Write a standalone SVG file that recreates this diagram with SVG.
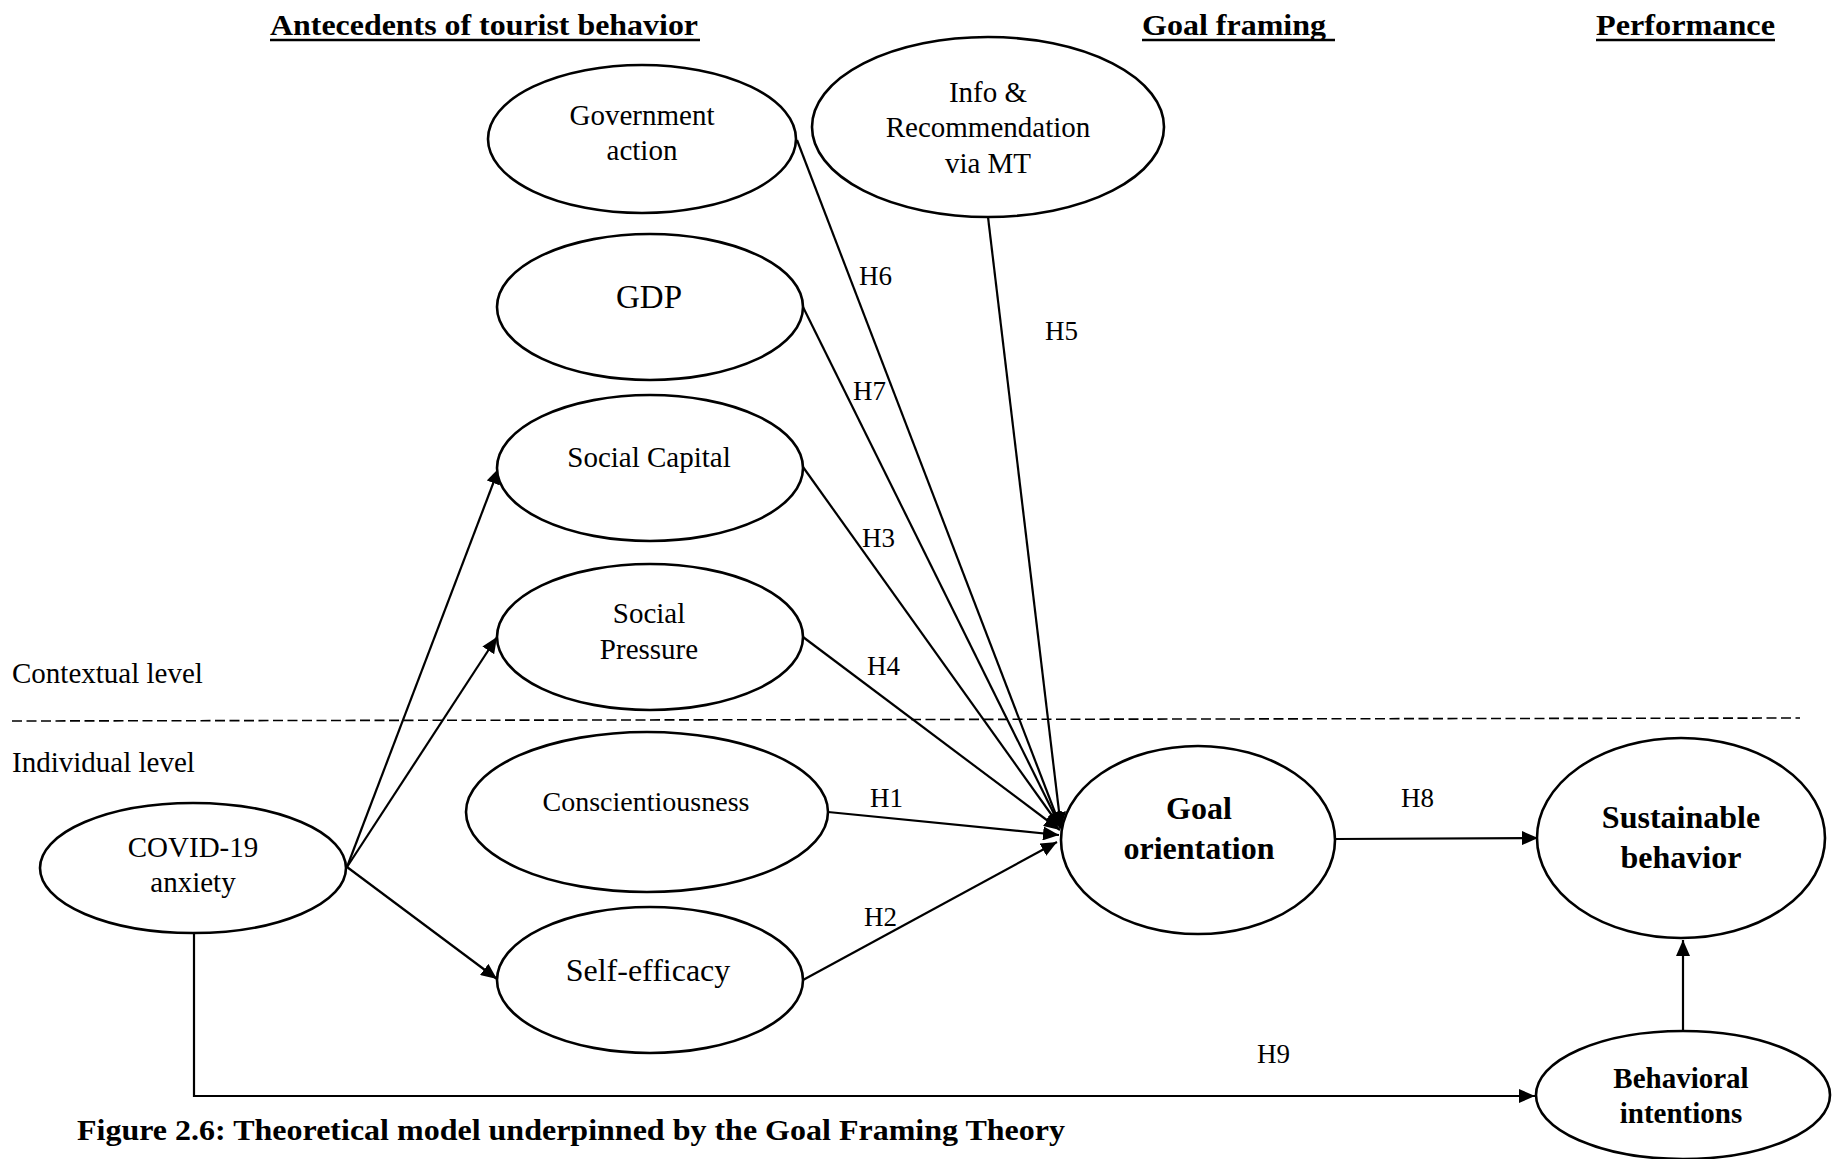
<svg xmlns="http://www.w3.org/2000/svg" width="1837" height="1159" viewBox="0 0 1837 1159">
<style>
  .node { fill: #fff; stroke: #000; stroke-width: 2.6; }
  .t { font-family: "Liberation Serif", "Times New Roman", serif; fill: #000; text-anchor: middle; }
  .r { font-size: 29px; }
  .b { font-size: 32px; font-weight: bold; }
  .lbl { font-family: "Liberation Serif", "Times New Roman", serif; font-size: 27px; fill: #000; }
  .head { font-family: "Liberation Serif", "Times New Roman", serif; font-size: 30px; font-weight: bold; fill: #000; }
  .conn { stroke: #000; stroke-width: 2.2; fill: none; }
  .ul { stroke: #000; stroke-width: 2.5; }
</style>
<defs>
  <marker id="arr" markerUnits="userSpaceOnUse" markerWidth="18" markerHeight="14" refX="16" refY="7" orient="auto">
    <path d="M0,0 L16,7 L0,14 z" fill="#000"/>
  </marker>
</defs>
<rect width="1837" height="1159" fill="#fff"/>

<g id="headings">
  <text class="head" x="270" y="35" textLength="428" lengthAdjust="spacingAndGlyphs">Antecedents of tourist behavior</text>
  <line class="ul" x1="270" y1="40" x2="700" y2="40"/>
  <text class="head" x="1142" y="35" textLength="184" lengthAdjust="spacingAndGlyphs">Goal framing</text>
  <line class="ul" x1="1142" y1="40" x2="1335" y2="40"/>
  <text class="head" x="1596" y="35" textLength="179" lengthAdjust="spacingAndGlyphs">Performance</text>
  <line class="ul" x1="1596" y1="40" x2="1775" y2="40"/>
</g>

<g id="levels">
  <text class="lbl" x="12" y="683" style="font-size:29px">Contextual level</text>
  <line x1="12" y1="721" x2="1800" y2="718" stroke="#000" stroke-width="1.6" stroke-dasharray="10,4.5"/>
  <text class="lbl" x="12" y="772" style="font-size:29px">Individual level</text>
</g>

<g id="connectors">
  <line class="conn" x1="797" y1="140" x2="1061" y2="828" marker-end="url(#arr)"/>
  <line class="conn" x1="803" y1="307" x2="1061" y2="828" marker-end="url(#arr)"/>
  <line class="conn" x1="803" y1="467" x2="1061" y2="828" marker-end="url(#arr)"/>
  <line class="conn" x1="988" y1="217" x2="1061" y2="828" marker-end="url(#arr)"/>
  <line class="conn" x1="803" y1="637" x2="1060" y2="830" marker-end="url(#arr)"/>
  <line class="conn" x1="828" y1="812" x2="1059" y2="835" marker-end="url(#arr)"/>
  <line class="conn" x1="803" y1="980" x2="1057" y2="842" marker-end="url(#arr)"/>
  <line class="conn" x1="347" y1="867" x2="499" y2="468" marker-end="url(#arr)"/>
  <line class="conn" x1="347" y1="867" x2="497" y2="637" marker-end="url(#arr)"/>
  <line class="conn" x1="347" y1="867" x2="497" y2="979" marker-end="url(#arr)"/>
  <line class="conn" x1="1336" y1="839" x2="1538" y2="838" marker-end="url(#arr)"/>
  <polyline class="conn" points="194,933 194,1096 1535,1096" marker-end="url(#arr)"/>
  <line class="conn" x1="1683" y1="1031" x2="1683" y2="940" marker-end="url(#arr)"/>
  <text class="lbl" x="859" y="285">H6</text>
  <text class="lbl" x="853" y="400">H7</text>
  <text class="lbl" x="1045" y="340">H5</text>
  <text class="lbl" x="862" y="547">H3</text>
  <text class="lbl" x="867" y="675">H4</text>
  <text class="lbl" x="870" y="807">H1</text>
  <text class="lbl" x="864" y="926">H2</text>
  <text class="lbl" x="1401" y="807">H8</text>
  <text class="lbl" x="1257" y="1063">H9</text>
</g>

<g id="government-action">
  <ellipse class="node" cx="642" cy="139" rx="154" ry="74"/>
  <text class="t r" x="642" y="125">Government</text>
  <text class="t r" x="642" y="160">action</text>
</g>
<g id="info-recommendation">
  <ellipse class="node" cx="988" cy="127" rx="176" ry="90"/>
  <text class="t r" x="988" y="102">Info &amp;</text>
  <text class="t r" x="988" y="137">Recommendation</text>
  <text class="t r" x="988" y="173">via MT</text>
</g>
<g id="gdp">
  <ellipse class="node" cx="650" cy="307" rx="153" ry="73"/>
  <text class="t" x="649" y="308" style="font-size:33px">GDP</text>
</g>
<g id="social-capital">
  <ellipse class="node" cx="650" cy="468" rx="153" ry="73"/>
  <text class="t r" x="649" y="467">Social Capital</text>
</g>
<g id="social-pressure">
  <ellipse class="node" cx="650" cy="637" rx="153" ry="73"/>
  <text class="t r" x="649" y="623">Social</text>
  <text class="t r" x="649" y="659">Pressure</text>
</g>
<g id="conscientiousness">
  <ellipse class="node" cx="647" cy="812" rx="181" ry="80"/>
  <text class="t" x="646" y="811" style="font-size:28px">Conscientiousness</text>
</g>
<g id="covid-anxiety">
  <ellipse class="node" cx="193" cy="868" rx="153" ry="65"/>
  <text class="t r" x="193" y="857">COVID-19</text>
  <text class="t r" x="193" y="892">anxiety</text>
</g>
<g id="self-efficacy">
  <ellipse class="node" cx="650" cy="980" rx="153" ry="73"/>
  <text class="t" x="648" y="981" style="font-size:32px">Self-efficacy</text>
</g>
<g id="goal-orientation">
  <ellipse class="node" cx="1198" cy="840" rx="137" ry="94"/>
  <text class="t b" x="1199" y="819">Goal</text>
  <text class="t b" x="1199" y="859">orientation</text>
</g>
<g id="sustainable-behavior">
  <ellipse class="node" cx="1681" cy="838" rx="144" ry="100"/>
  <text class="t b" x="1681" y="828">Sustainable</text>
  <text class="t b" x="1681" y="868">behavior</text>
</g>
<g id="behavioral-intentions">
  <ellipse class="node" cx="1683" cy="1095" rx="147" ry="64"/>
  <text class="t" x="1681" y="1088" style="font-size:29px;font-weight:bold">Behavioral</text>
  <text class="t" x="1681" y="1123" style="font-size:29px;font-weight:bold">intentions</text>
</g>

<g id="caption">
  <text class="head" x="77" y="1140" style="font-size:29px" textLength="988" lengthAdjust="spacingAndGlyphs">Figure 2.6: Theoretical model underpinned by the Goal Framing Theory</text>
</g>
</svg>
